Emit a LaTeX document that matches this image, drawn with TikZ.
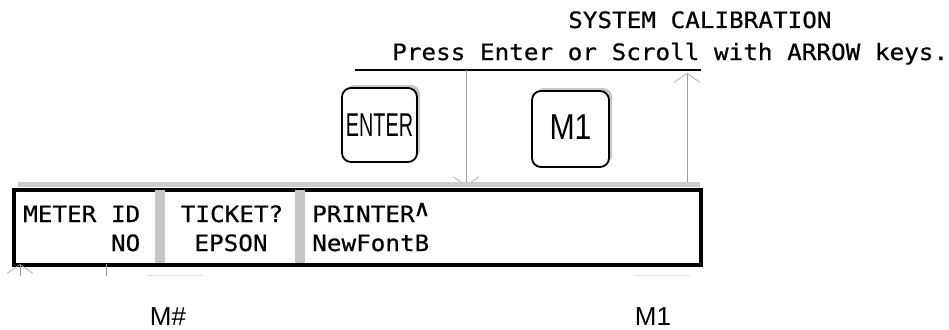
\documentclass[tikz,border=0pt]{standalone}
\usepackage{fontspec}
\usetikzlibrary{arrows.meta,shadows}
\newfontfamily\dispmono[FakeStretch=1.08, FakeBold=0.6]{DejaVu Sans Mono}
\newfontfamily\keysans{Liberation Sans}
\tikzset{
  mono/.style={inner sep=0pt, anchor=base west, font=\dispmono\fontsize{22.5}{27}\selectfont},
  keybox/.style={draw=black, line width=1.8pt, rounded corners=9pt, fill=white, inner sep=0pt,
    drop shadow={shadow xshift=3pt, shadow yshift=3pt, opacity=0.45, fill=gray}},
  keylabel/.style={inner sep=0pt, anchor=base, font=\keysans\fontsize{26}{26}\selectfont},
  guide/.style={draw=gray!75, line width=0.8pt},
  guidearrow/.style={guide, -{Straight Barb[length=9pt, width=26pt, line width=0.6pt]}},
  sepbar/.style={fill=gray!45, draw=none},
}
\begin{document}
\begin{tikzpicture}[x=1pt, y=-1pt]
\useasboundingbox (0,0) rectangle (949,329);
% heading
\node[mono] (title) at (568,28) {SYSTEM CALIBRATION};
\node[mono] (press) at (392,60) {Press Enter or Scroll with ARROW keys.};
\coordinate (ulA) at (355,70);
\coordinate (ulB) at (701,70);
\draw[line width=2.2pt] (ulA) -- (ulB);
% guides
\coordinate (dnTop) at (466,70);
\coordinate (dnBot) at (466,186);
\draw[guidearrow] (dnTop) -- (dnBot);
\coordinate (upBot) at (687,186);
\coordinate (upTop) at (687,73);
\draw[guidearrow] (upBot) -- (upTop);
% keys
\node[keybox, minimum width=75pt, minimum height=74pt] (enter) at (379.5,125)
  {\keysans\fontsize{33}{33}\selectfont\scalebox{0.6}[1]{ENTER}};
\node[keybox, minimum width=77pt, minimum height=76pt] (m1key) at (570.5,129)
  {\raisebox{3pt}{\keysans\fontsize{36}{36}\selectfont\scalebox{0.84}[1]{M1}}};
% display
\fill[gray!40] (18,182) rectangle (700,187);
\node[draw=black, line width=2.5pt, minimum width=686pt, minimum height=74pt, inner sep=0pt, anchor=north west] (disp) at (13,189) {};
\fill[sepbar] (155,189) rectangle (165,263);
\fill[sepbar] (295,189) rectangle (305,263);
\draw[line width=2.5pt] (disp.north west) rectangle (disp.south east);
\node[mono] (meterid) at (23,222) {METER ID};
\node[mono] (meterno) at (23,251) {\phantom{METERX}NO};
\node[mono, anchor=base] (ticket) at (232,222) {TICKET?};
\node[mono, anchor=base] (epson) at (231,251) {EPSON};
\node[mono] (printer) at (312,222) {PRINTER\raisebox{6pt}{∧}};
\node[mono] (font) at (312,251) {NewFontB};
% below display
\coordinate (lgA) at (20,276);
\coordinate (lgB) at (20,264);
\draw[guidearrow] (lgA) -- (lgB);
\coordinate (lhA) at (106,264);
\coordinate (lhB) at (106,276);
\draw[guide] (lhA) -- (lhB);
\coordinate (faA) at (148,275);
\coordinate (faB) at (203,275);
\draw[gray!25, line width=1pt] (faA) -- (faB);
\coordinate (fbA) at (635,275);
\coordinate (fbB) at (690,275);
\draw[gray!25, line width=1pt] (fbA) -- (fbB);
\node[keylabel] (mhash) at (168,325) {M\#};
\node[keylabel] (m1lab) at (653,325) {M1};
\end{tikzpicture}
\end{document}
